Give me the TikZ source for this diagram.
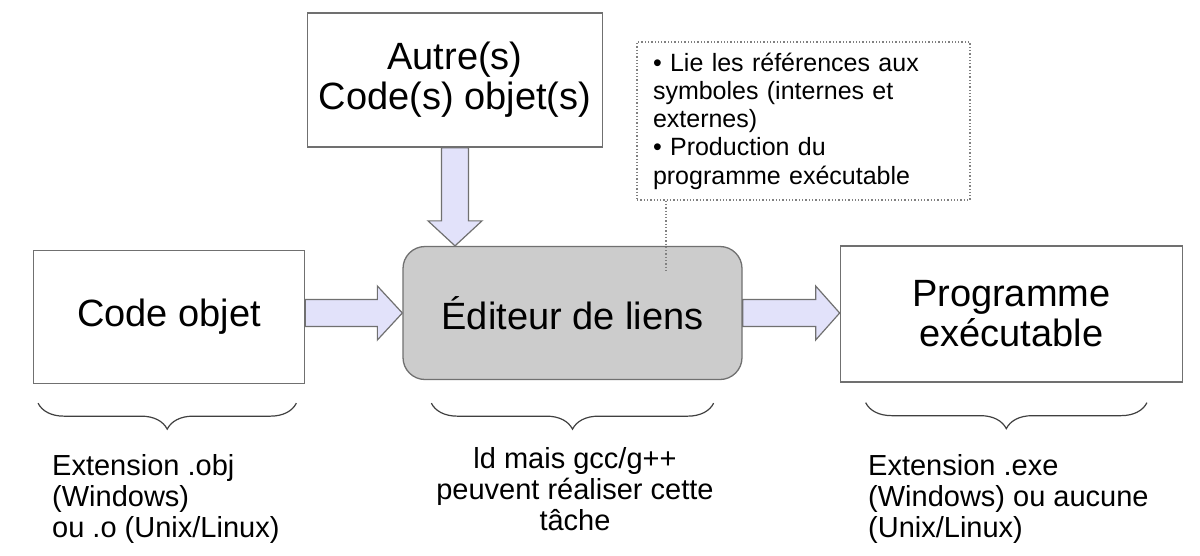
\documentclass[tikz,border=0pt]{standalone}
\usepackage{fontspec}
\setmainfont{Liberation Sans}
\usetikzlibrary{positioning,calc,decorations.pathreplacing}
\definecolor{boxline}{RGB}{112,112,112}
\definecolor{arrowfill}{RGB}{226,226,250}
\definecolor{editfill}{RGB}{204,204,204}
\definecolor{bracecol}{RGB}{64,64,64}

\begin{document}
\begin{tikzpicture}[x=1pt,y=1pt,
node distance=97pt,
box/.style={draw=boxline,line width=1.3pt,fill=white,align=center,inner sep=0pt,font=\fontsize{38}{40}\selectfont},
fatarrow/.style={draw=boxline,line width=1.2pt,fill=arrowfill,line join=miter},
notebox/.style={draw=gray,dotted,line width=1.3pt,align=left,inner sep=0pt,text width=301pt,minimum width=333pt,minimum height=158pt,font=\fontsize{25}{28.3}\selectfont},
pinline/.style={draw=gray,dotted,line width=1.3pt},
bracedeco/.style={draw=bracecol,line width=1.2pt,decorate,decoration={brace,mirror,amplitude=26pt}},
lbl/.style={inner sep=0pt,font=\fontsize{29}{31}\selectfont}]
\useasboundingbox (0,0) rectangle (1200,-555);
\node[box,fill=editfill,rounded corners=22pt,minimum width=339pt,minimum height=133pt] (edit) at (572.5,-313) {Éditeur de liens};
\node[box,minimum width=271pt,minimum height=133pt] (code) [left=of edit,yshift=-4pt] {Code objet};
\node[box,minimum width=342pt,minimum height=136pt] (prog) [right=of edit,yshift=-1pt] {Programme\\exécutable};
\node[box,minimum width=295pt,minimum height=134pt] (other) at (455,-80) {Autre(s)\\Code(s) objet(s)};
\node[notebox] (note) at (803.5,-121) {• Lie les références aux\\symboles (internes et\\externes)\\• Production du\\programme exécutable};
\coordinate (pin) at (666,-273);
\draw[pinline] (note.south -| pin) -- (pin);
% block arrows
\draw[fatarrow] ($(code.east |- edit.west)+(0,13.5)$) -- ($(edit.west)+(-25,13.5)$) -- ($(edit.west)+(-25,27)$) -- (edit.west)
  -- ($(edit.west)+(-25,-27)$) -- ($(edit.west)+(-25,-13.5)$) -- ($(code.east |- edit.west)+(0,-13.5)$) -- cycle;
\draw[fatarrow] ($(edit.east)+(0,13.5)$) -- ($(edit.east -| prog.west)+(-24,13.5)$) -- ($(edit.east -| prog.west)+(-24,27)$) -- (edit.east -| prog.west)
  -- ($(edit.east -| prog.west)+(-24,-27)$) -- ($(edit.east -| prog.west)+(-24,-13.5)$) -- ($(edit.east)+(0,-13.5)$) -- cycle;
\draw[fatarrow] ($(other.south)+(-13.5,0)$) -- ($(other.south |- edit.north)+(-13.5,25)$) -- ($(other.south |- edit.north)+(-27,25)$) -- (other.south |- edit.north)
  -- ($(other.south |- edit.north)+(27,25)$) -- ($(other.south |- edit.north)+(13.5,25)$) -- ($(other.south)+(13.5,0)$) -- cycle;
% braces
\draw[bracedeco] ([xshift=5pt,yshift=-19pt]code.south west) -- ([xshift=-9pt,yshift=-19pt]code.south east);
\draw[bracedeco] ([xshift=29pt,yshift=-23pt]edit.south west) -- ([xshift=-29pt,yshift=-23pt]edit.south east);
\draw[bracedeco] ([xshift=26pt,yshift=-20pt]prog.south west) -- ([xshift=-36pt,yshift=-20pt]prog.south east);
\node[lbl,align=left,anchor=north west] (codelbl) at (52,-454) {Extension .obj\\(Windows)\\ou .o (Unix/Linux)};
\node[lbl,align=center,anchor=north] (editlbl) at (575,-447) {ld mais gcc/g++\\peuvent réaliser cette\\tâche};
\node[lbl,align=left,anchor=north west] (proglbl) at (868,-454) {Extension .exe\\(Windows) ou aucune\\(Unix/Linux)};
\end{tikzpicture}
\end{document}
